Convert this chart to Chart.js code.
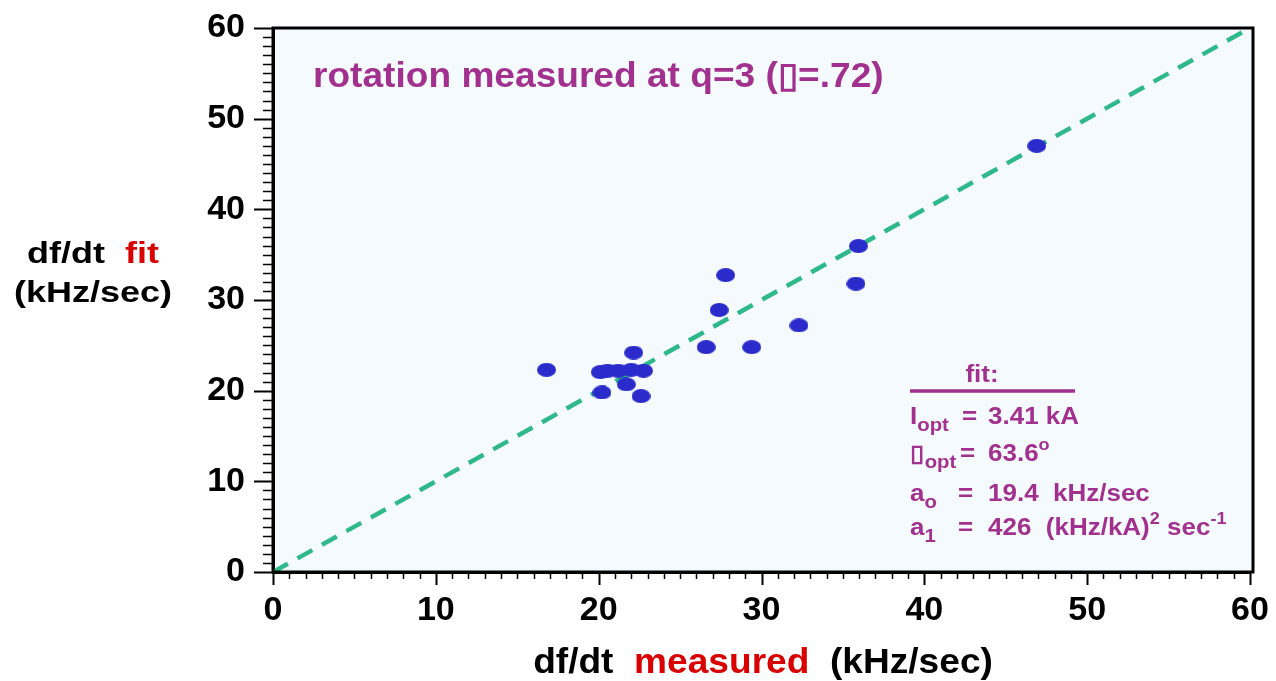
<!DOCTYPE html>
<html>
<head>
<meta charset="utf-8">
<script src="https://cdn.jsdelivr.net/npm/chart.js@4.4.1/dist/chart.umd.min.js"></script>
<style>
  html, body { margin: 0; padding: 0; background: #ffffff; }
  #wrap { width: 1276px; height: 681px; }
</style>
</head>
<body>
<div id="wrap"><canvas id="fitChart"></canvas></div>
<script>
// df/dt measured vs df/dt from the fit, kHz/sec
const measured = [16.8, 22.15, 20.1, 20.55, 21.2, 22.0, 22.75, 21.7, 20.2, 22.6, 27.8, 27.4, 26.6, 29.4, 32.3, 35.8, 35.95, 46.9];
const fitted   = [22.3, 24.2, 22.05, 22.2, 22.2, 22.3, 22.2, 20.7, 19.8, 19.4, 32.75, 28.9, 24.8, 24.8, 27.2, 31.8, 35.95, 47.0];
// y = x reference line
const diagX = [0, 60];
const diagY = [0, 60];

const FONT = '"Liberation Sans", Arial, Helvetica, sans-serif';
const PURPLE = '#a2308f';
const RED = '#d80000';
const FRAME_EXTRA = 3; // frame sits a little past x = 60

function ellipseDot(w, h, color) {
    const c = document.createElement('canvas');
    c.width = w;
    c.height = h;
    const g = c.getContext('2d');
    g.fillStyle = color;
    g.beginPath();
    g.ellipse(w / 2, h / 2, w / 2, h / 2, 0, 0, Math.PI * 2);
    g.fill();
    return c;
}

// draws a list of text runs one after the other, stretched by sx
function drawRuns(ctx, runs, x, y, align, sx) {
    ctx.save();
    let total = 0;
    runs.forEach(r => {
        ctx.font = r.font;
        total += ctx.measureText(r.text).width;
    });
    ctx.translate(x, y);
    ctx.scale(sx, 1);
    let cx = align === 'center' ? -total / 2 : 0;
    ctx.textBaseline = 'alphabetic';
    ctx.textAlign = 'left';
    runs.forEach(r => {
        ctx.font = r.font;
        ctx.fillStyle = r.color;
        ctx.fillText(r.text, cx, r.dy || 0);
        cx += ctx.measureText(r.text).width;
    });
    ctx.restore();
}

const decorations = {
    id: 'decorations',
    beforeDraw(chart) {
        const { ctx, chartArea: a } = chart;
        ctx.save();
        ctx.fillStyle = '#f4fafd';
        ctx.fillRect(a.left, a.top, a.right - a.left + FRAME_EXTRA, a.bottom - a.top);
        ctx.restore();
    },
    afterDraw(chart) {
        const { ctx, chartArea: a } = chart;
        const xs = chart.scales.x, ys = chart.scales.y;
        ctx.save();
        // frame
        ctx.strokeStyle = '#000';
        ctx.lineWidth = 3;
        ctx.strokeRect(a.left, a.top, a.right - a.left + FRAME_EXTRA, a.bottom - a.top);
        // tick marks outside the frame, long ones every 10
        ys.ticks.forEach(t => {
            const major = t.value % 10 === 0;
            const py = Math.round(ys.getPixelForValue(t.value)) + 0.5;
            ctx.lineWidth = major ? 2 : 1.5;
            ctx.beginPath();
            ctx.moveTo(a.left - (major ? 19 : 10), py);
            ctx.lineTo(a.left, py);
            ctx.stroke();
        });
        xs.ticks.forEach(t => {
            const major = t.value % 10 === 0;
            const px = Math.round(xs.getPixelForValue(t.value)) + 0.5;
            ctx.lineWidth = major ? 2 : 1.5;
            ctx.beginPath();
            ctx.moveTo(px, a.bottom);
            ctx.lineTo(px, a.bottom + (major ? 13 : 7));
            ctx.stroke();
        });
        ctx.restore();

        const b = (s) => 'bold ' + s + 'px ' + FONT;

        // annotation at top of plot
        drawRuns(ctx, [{ text: 'rotation measured at q=3 (\u25AF=.72)', font: b(35), color: PURPLE }], 313, 87, 'left', 1.06);

        // fit parameters
        drawRuns(ctx, [{ text: 'fit:', font: b(23), color: PURPLE }], 982, 382, 'center', 1.13);
        ctx.save();
        ctx.strokeStyle = PURPLE;
        ctx.lineWidth = 3.5;
        ctx.beginPath();
        ctx.moveTo(910, 391);
        ctx.lineTo(1075, 391);
        ctx.stroke();
        ctx.restore();

        const rows = [
            { y: 424, name: 'I', sub: 'opt', eqX: 962, rest: [{ text: '3.41 kA' }] },
            { y: 461, name: '\u25AF', sub: 'opt', eqX: 960, rest: [{ text: '63.6' }, { text: 'o', sup: true }] },
            { y: 501, name: 'a', sub: 'o', eqX: 958, rest: [{ text: '19.4  kHz/sec' }] },
            { y: 535, name: 'a', sub: '1', eqX: 958, rest: [{ text: '426  (kHz/kA)' }, { text: '2', sup: true }, { text: ' sec' }, { text: '-1', sup: true }] }
        ];
        rows.forEach(r => {
            drawRuns(ctx, [
                { text: r.name, font: b(23), color: PURPLE },
                { text: r.sub, font: b(18), color: PURPLE, dy: 7 }
            ], 910, r.y, 'left', 1.13);
            drawRuns(ctx, [{ text: '=', font: b(23), color: PURPLE }], r.eqX, r.y, 'left', 1.13);
            drawRuns(ctx, r.rest.map(p => ({
                text: p.text,
                font: p.sup ? b(16) : b(23),
                color: PURPLE,
                dy: p.sup ? -11 : 0
            })), 988, r.y, 'left', 1.13);
        });

        // axis titles
        drawRuns(ctx, [
            { text: 'df/dt  ', font: b(30), color: '#000' },
            { text: 'fit', font: b(30), color: RED }
        ], 93, 263, 'center', 1.2);
        drawRuns(ctx, [{ text: '(kHz/sec)', font: b(30), color: '#000' }], 93, 302, 'center', 1.2);
        drawRuns(ctx, [
            { text: 'df/dt  ', font: b(35), color: '#000' },
            { text: 'measured', font: b(35), color: RED },
            { text: '  (kHz/sec)', font: b(35), color: '#000' }
        ], 763, 673, 'center', 1.06);
    }
};

const tickLabel = v => (v % 10 === 0 ? String(v) : '');

new Chart(document.getElementById('fitChart'), {
    type: 'scatter',
    data: {
        datasets: [{
            label: 'shots',
            data: measured.map((x, i) => ({ x: x, y: fitted[i] })),
            pointStyle: ellipseDot(19, 14, '#2b2bcc'),
            pointRadius: 9,
            borderWidth: 0
        }, {
            type: 'line',
            label: 'y = x',
            data: diagX.map((x, i) => ({ x: x, y: diagY[i] })),
            borderColor: '#2fb98a',
            borderWidth: 4.5,
            borderDash: [17, 11],
            pointRadius: 0,
            fill: false
        }]
    },
    options: {
        responsive: true,
        maintainAspectRatio: false,
        animation: false,
        devicePixelRatio: 1,
        layout: { padding: { top: 28, right: 26, left: 0, bottom: 0 } },
        plugins: {
            legend: { display: false },
            tooltip: { enabled: false }
        },
        scales: {
            x: {
                type: 'linear',
                min: 0,
                max: 60,
                afterFit: s => { s.height = 109; },
                ticks: {
                    stepSize: 1,
                    autoSkip: false,
                    maxRotation: 0,
                    padding: 0,
                    color: '#000',
                    font: { family: FONT, size: 34, weight: 'bold' },
                    callback: tickLabel
                },
                // marks are drawn by the plugin; tickLength only spaces the labels
                grid: { drawOnChartArea: false, tickLength: 18, tickColor: 'rgba(0,0,0,0)' },
                border: { color: '#000', width: 3 }
            },
            y: {
                type: 'linear',
                min: 0,
                max: 60,
                afterFit: s => { s.width = 273; },
                ticks: {
                    stepSize: 1,
                    autoSkip: false,
                    padding: 0,
                    color: '#000',
                    font: { family: FONT, size: 34, weight: 'bold' },
                    callback: tickLabel
                },
                grid: { drawOnChartArea: false, tickLength: 28, tickColor: 'rgba(0,0,0,0)' },
                border: { color: '#000', width: 3 }
            }
        }
    },
    plugins: [decorations]
});
</script>
</body>
</html>
